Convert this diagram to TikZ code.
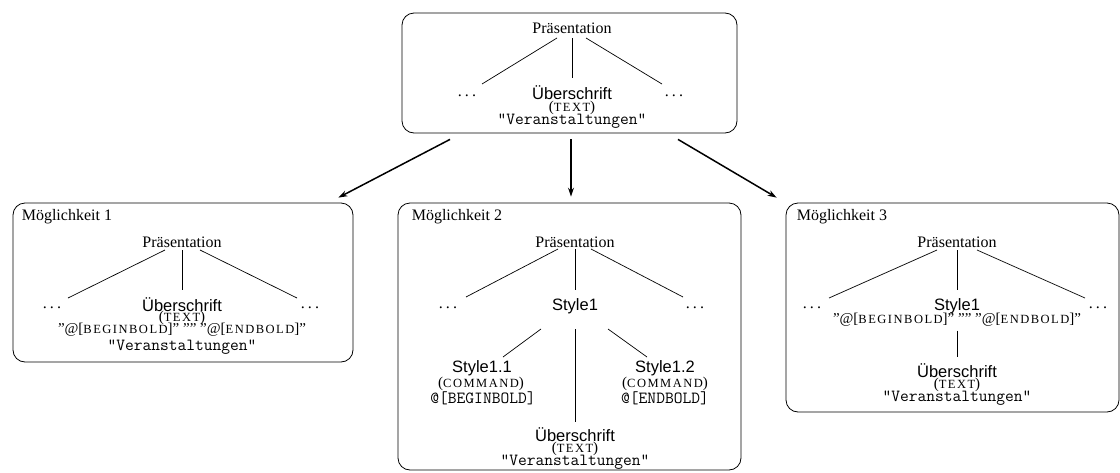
\documentclass[tikz,border=0pt]{standalone}
\usepackage{fontspec}
\setmainfont{Liberation Serif}
\setsansfont{Liberation Sans}
\newfontfamily\scfam[LetterSpace=12]{Liberation Serif}
\usetikzlibrary{calc,arrows.meta}
\newcommand\fsc[1]{{\scfam\fontsize{12.5}{12.5}\selectfont #1}}
\newcommand\scpar[1]{{\fontsize{15}{15}\selectfont(\fsc{#1})}}
\newcommand\qline{{\fontsize{15}{16}\selectfont ”@[\fsc{BEGINBOLD}]” ”” ”@[\fsc{ENDBOLD}]”}}
\newcommand\ddd{.\hspace{3.2pt}.\hspace{3.2pt}.}
\begin{document}
\begin{tikzpicture}[x=1pt,y=-1pt,
  ser/.style={font=\fontsize{16}{18}\selectfont, inner sep=0pt},
  san/.style={font=\sffamily\fontsize{16.5}{18}\selectfont, inner sep=0pt},
  mon/.style={font=\ttfamily\fontsize{17}{18}\selectfont, inner sep=0pt},
  plain/.style={inner sep=0pt},
  box/.style={draw, rounded corners=12pt, line width=0.8pt, inner sep=0pt},
  edge/.style={line width=0.7pt},
  arr/.style={line width=1.5pt, -{Stealth[length=9pt,width=6pt]}}]
\useasboundingbox (0,0) rectangle (1120,472);

% boxes
\node[box, minimum width=335pt, minimum height=120pt] (B0) at (569.5,73) {};
\node[box, minimum width=340pt, minimum height=159pt] (B1) at (183,282.5) {};
\node[box, minimum width=343pt, minimum height=267pt] (B2) at (569.5,336.5) {};
\node[box, minimum width=333pt, minimum height=209pt] (B3) at (952.5,307.5) {};

% top box
\node[ser] (p0) at (572,28) {Präsentation};
\node[ser] (dl0) at (467,96) {\ddd};
\node[ser] (dr0) at (674,96) {\ddd};
\node[san] (u0) at (572,93) {Überschrift};
\node[plain] (t0) at (572,107.5) {\scpar{TEXT}};
\node[mon] (v0) at (572,121) {"Veranstaltungen"};
\draw[edge] ($(p0)+(-15,10)$) -- ($(dl0)+(15,-12)$);
\draw[edge] ($(p0)+(0,10)$) -- ($(u0)+(0,-15)$);
\draw[edge] ($(p0)+(14,10)$) -- ($(dr0)+(-12,-12)$);

% arrows
\draw[arr] ($(B0.south)+(-119.5,6)$) -- ($(B1.north east)+(-15,-5)$);
\draw[arr] ($(B0.south)+(1.5,6)$) -- ($(B2.north)+(1.5,-6)$);
\draw[arr] ($(B0.south)+(108.5,6)$) -- ($(B3.north west)+(-9,-5)$);

% labels
\node[ser, anchor=west] (m1) at ($(B1.north west)+(9,14)$) {Möglichkeit 1};
\node[ser, anchor=west] (m2) at ($(B2.north west)+(14,14)$) {Möglichkeit 2};
\node[ser, anchor=west] (m3) at ($(B3.north west)+(11,14)$) {Möglichkeit 3};

% box 1
\node[ser] (p1) at (182,242) {Präsentation};
\node[ser] (dl1) at (52,308) {\ddd};
\node[ser] (dr1) at (310,308) {\ddd};
\node[san] (u1) at (182,305) {Überschrift};
\node[plain] (t1) at (182,317.5) {\scpar{TEXT}};
\node[plain] (q1) at (182,330) {\qline};
\node[mon] (v1) at (182,347) {"Veranstaltungen"};
\draw[edge] ($(p1)+(-17,8)$) -- ($(dl1)+(16,-10)$);
\draw[edge] ($(p1)+(0,8)$) -- ($(u1)+(0,-15)$);
\draw[edge] ($(p1)+(18,8)$) -- ($(dr1)+(-13,-10)$);

% box 2
\node[ser] (p2) at (575,242) {Präsentation};
\node[ser] (dl2) at (448,308) {\ddd};
\node[ser] (dr2) at (695,308) {\ddd};
\node[san] (s2) at (575,306) {Style1};
\node[san] (s21) at (482,368) {Style1.1};
\node[plain] (c21) at (481,384) {\scpar{COMMAND}};
\node[mon] (b21) at (483,398) {@[BEGINBOLD]};
\node[san] (s22) at (665,368) {Style1.2};
\node[plain] (c22) at (665,384) {\scpar{COMMAND}};
\node[mon] (b22) at (665,398) {@[ENDBOLD]};
\node[san] (u2) at (575,435) {Überschrift};
\node[plain] (t2) at (575,448.5) {\scpar{TEXT}};
\node[mon] (v2) at (575,462) {"Veranstaltungen"};
\draw[edge] ($(p2)+(-17,7)$) -- ($(dl2)+(18,-11)$);
\draw[edge] ($(p2)+(0,7)$) -- ($(s2)+(0,-16)$);
\draw[edge] ($(p2)+(16,7)$) -- ($(dr2)+(-12,-11)$);
\draw[edge] ($(s2)+(-34,23)$) -- ($(s21)+(21,-11)$);
\draw[edge] ($(s2)+(0,23)$) -- ($(u2)+(0,-13)$);
\draw[edge] ($(s2)+(33,23)$) -- ($(s22)+(-18,-11)$);

% box 3
\node[ser] (p3) at (957,242) {Präsentation};
\node[ser] (dl3) at (812,308) {\ddd};
\node[ser] (dr3) at (1098,308) {\ddd};
\node[san] (s3) at (957,306) {Style1};
\node[plain] (q3) at (957,319.5) {\qline};
\node[san] (u3) at (957,371) {Überschrift};
\node[plain] (t3) at (957,384.5) {\scpar{TEXT}};
\node[mon] (v3) at (957,398) {"Veranstaltungen"};
\draw[edge] ($(p3)+(-20,8)$) -- ($(dl3)+(17,-10)$);
\draw[edge] ($(p3)+(0,8)$) -- ($(s3)+(0,-16)$);
\draw[edge] ($(p3)+(20,8)$) -- ($(dr3)+(-13,-10)$);
\draw[edge] ($(q3)+(0,11)$) -- ($(u3)+(0,-14)$);
\end{tikzpicture}
\end{document}
